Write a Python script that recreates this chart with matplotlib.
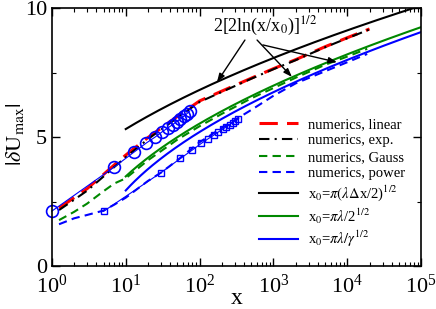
import numpy as np
import matplotlib
matplotlib.use("Agg")
import matplotlib.pyplot as plt
from matplotlib.ticker import LogLocator, MultipleLocator, NullFormatter

plt.rcParams['font.family'] = ['Liberation Serif', 'DejaVu Serif']
plt.rcParams['mathtext.fontset'] = 'stix'

# numerics
x_num = [1.25, 2, 3, 5, 7, 10, 20, 50, 100, 200, 500, 1000, 2000, 5000, 10000, 20000]
y_linear = [2.25, 2.65, 3.0, 3.55, 3.92, 4.3, 4.98, 5.8, 6.4, 6.78, 7.28, 7.65, 8.0, 8.5, 8.85, 9.19]
y_exp = [2.17, 2.57, 2.92, 3.47, 3.84, 4.22, 4.92, 5.75, 6.36, 6.75, 7.26, 7.63, 7.98, 8.48, 8.83, 9.17]

x_gauss = [1.25, 2, 3, 5, 7, 10, 20, 50, 100, 200, 500, 1000, 2000, 5000, 10000, 18600]
y_gauss = [1.78, 2.1, 2.42, 2.9, 3.2, 3.4, 4.1, 4.9, 5.42, 5.9, 6.5, 6.9, 7.3, 7.8, 8.12, 8.42]

x_power = [1.25, 2, 3, 5, 7, 10, 20, 30, 50, 100, 200, 300, 500, 1000, 2000, 5000, 10000, 18600]
y_power = [1.62, 1.85, 1.98, 2.15, 2.38, 2.65, 3.3, 3.62, 4.1, 4.8, 5.35, 5.66, 6.05, 6.6, 7.08, 7.55, 7.9, 8.22]

# marker series
x_circ = [1, 7, 13, 19, 25, 31, 37, 43, 49, 55, 61, 67, 73]
y_circ = [2.13, 3.84, 4.42, 4.77, 5.0, 5.2, 5.35, 5.48, 5.6, 5.7, 5.8, 5.9, 6.0]
x_sq = [5, 30, 55, 80, 105, 130, 155, 180, 205, 230, 255, 280, 305, 330]
y_sq = [2.12, 3.62, 4.17, 4.5, 4.75, 4.93, 5.07, 5.2, 5.3, 5.4, 5.48, 5.56, 5.62, 5.68]

# theory 2[2 ln(x/x0)]^{1/2}
x0_black, x0_green, x0_blue = 0.295, 2.21, 3.42

fig = plt.figure(figsize=(4.36, 3.09), dpi=100)
ax = fig.add_axes([0.119, 0.139, 0.847, 0.835])

xt = np.logspace(1, 5, 200)
def theory(x, x0):
    return 2 * np.sqrt(2 * np.log(x / x0))

ax.plot(x_num, y_linear, color='#ff0000', lw=2.2, dashes=(6, 3), label='numerics, linear')
ax.plot(x_num, y_exp, color='black', lw=1.5, dashes=(5, 2.5, 1, 2.5), label='numerics, exp.')
ax.plot(x_gauss, y_gauss, color='#008800', lw=1.5, dashes=(4, 2.5), label='numerics, Gauss')
ax.plot(x_power, y_power, color='#0000ff', lw=1.5, dashes=(4, 2.5), label='numerics, power')
ax.plot(xt, theory(xt, x0_black), color='black', lw=1.5, label=r'x$_0$=$\pi(\lambda\Delta$x/2)$^{1/2}$')
ax.plot(xt, theory(xt, x0_green), color='#008800', lw=1.5, label=r'x$_0$=$\pi\lambda$/2$^{1/2}$')
ax.plot(xt, theory(xt, x0_blue), color='#0000ff', lw=1.5, label=r'x$_0$=$\pi\lambda/\gamma^{1/2}$')

ax.plot(x_circ, y_circ, color='#0000ff', lw=0.8, marker='o', ms=8.5, mfc='none', mew=1.2, clip_on=False)
ax.plot(x_sq, y_sq, color='#0000ff', lw=0.8, marker='s', ms=5, mfc='none', mew=1.0)

ax.set_xscale('log')
ax.set_xlim(1, 1e5)
ax.set_ylim(0, 10)
ax.set_xticks([1, 10, 100, 1000, 10000, 100000])
ax.xaxis.set_minor_locator(LogLocator(base=10, subs=np.arange(2, 10), numticks=20))
ax.xaxis.set_minor_formatter(NullFormatter())
ax.yaxis.set_major_locator(MultipleLocator(5))
ax.yaxis.set_minor_locator(MultipleLocator(2.5))
ax.tick_params(which='both', direction='in', top=True, right=True, labelsize=16)
ax.tick_params(which='major', length=6, width=1)
ax.tick_params(which='minor', length=3, width=0.8)
ax.tick_params(axis='x', pad=6)
for s in ax.spines.values():
    s.set_linewidth(1.2)

ax.set_xlabel('x', fontsize=17)
ax.xaxis.set_label_coords(0.5, -0.124)
ax.xaxis.label.set_va('center')
ax.set_ylabel(r'$|\delta\mathrm{U}_{\mathrm{max}}|$', fontsize=16)
ax.yaxis.set_label_coords(-0.1, 0.51)
ax.yaxis.label.set_va('center')

ax.text(773, 9.3, r'2[2ln(x/x$_0$)]$^{1/2}$', fontsize=13, ha='center', va='center')
arrows = [((411, 8.76), (172, 7.13)), ((600, 8.76), (1780, 7.33)), ((720, 8.57), (7250, 7.9))]
for start, tip in arrows:
    ax.annotate('', xy=tip, xytext=start,
                arrowprops=dict(arrowstyle='-|>,head_length=0.5,head_width=0.18', color='black', lw=1.0,
                                shrinkA=0, shrinkB=0))

leg = ax.legend(loc='upper left', bbox_to_anchor=(0.56, 0.575), frameon=False, fontsize=10.5,
                handlelength=2.7, handletextpad=0.7, labelspacing=0.22, borderaxespad=0, borderpad=0)

fig.savefig('out.png', dpi=100)
